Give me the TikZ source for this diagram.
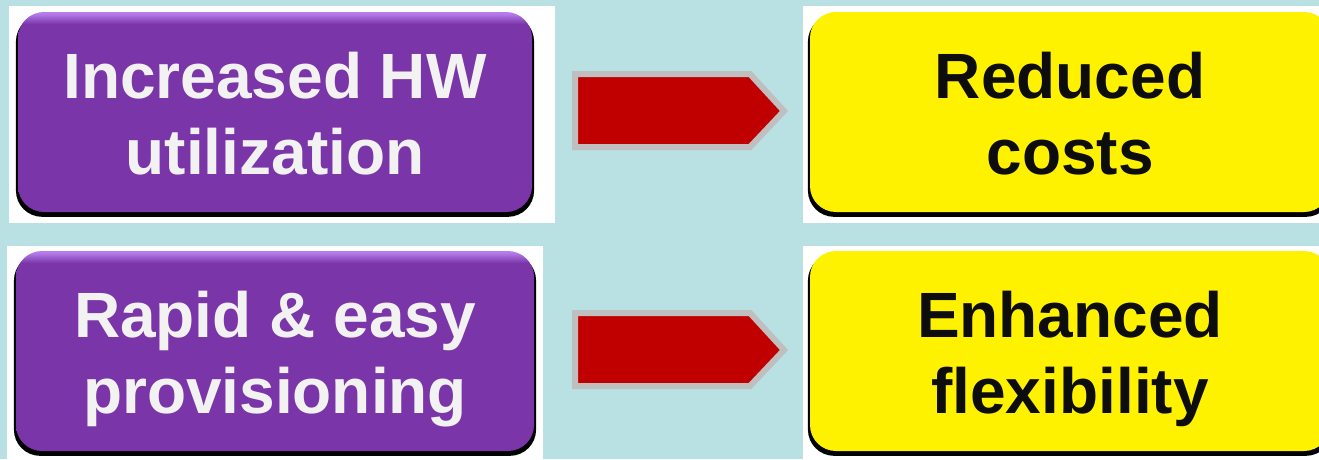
\documentclass[tikz,border=0pt]{standalone}
\usepackage{fontspec}
\setmainfont{Liberation Sans}
\usetikzlibrary{shadows}
\definecolor{bg}{HTML}{B9E0E3}
\definecolor{pmain}{HTML}{7A36A8}
\definecolor{plight}{HTML}{B67CEB}
\definecolor{arrred}{HTML}{C00000}
\definecolor{arrgray}{HTML}{BFBFBF}
\definecolor{txtw}{HTML}{F2F2F2}
\definecolor{txtk}{HTML}{0D0D0D}
\pgfdeclareverticalshading{pshade}{100bp}{color(0bp)=(pmain); color(25bp)=(pmain); color(72bp)=(pmain); color(74.6bp)=(plight); color(100bp)=(plight)}
\begin{document}
\begin{tikzpicture}[x=1pt,y=-1pt,
  box/.style={rounded corners=26pt, minimum width=514pt, minimum height=200pt,
    inner sep=0pt, align=center, font=\fontsize{64}{76}\selectfont\bfseries,
    text height=124pt, text depth=0pt,
    drop shadow={fill=black, opacity=1, shadow xshift=0pt, shadow yshift=-4pt, shadow scale=1.008}},
  pbox/.style={box, shading=pshade, text=txtw},
  ybox/.style={box, fill=yellow, text=txtk},
  patch/.style={fill=white},
  blockarrow/.style={fill=arrred, draw=arrgray, line width=6pt, miter limit=10}]
\fill[bg] (0,0) rectangle (1319,459);
\useasboundingbox (0,0) rectangle (1319,459);
\clip (0,0) rectangle (1319,459);
% white patches
\fill[patch] (9,6) rectangle (555,223);
\fill[patch] (803,6) rectangle (1319,223);
\fill[patch] (7,246) rectangle (543,459);
\fill[patch] (803,246) rectangle (1319,459);
% boxes
\node[pbox] (hw) at (275,112) {Increased HW\\utilization};
\node[pbox, minimum width=518pt] (prov) at (275,351) {Rapid \& easy\\provisioning};
\node[ybox, minimum width=520pt] (cost) at (1070,112) {Reduced\\costs};
\node[ybox, minimum width=520pt] (flex) at (1070,351) {Enhanced\\flexibility};
% block arrows
\draw[blockarrow] (575,74) -- (750,74) -- (784,111) -- (750,147) -- (575,147) -- cycle;
\draw[blockarrow] (575,313) -- (750,313) -- (784,350) -- (750,386) -- (575,386) -- cycle;
\end{tikzpicture}
\end{document}
